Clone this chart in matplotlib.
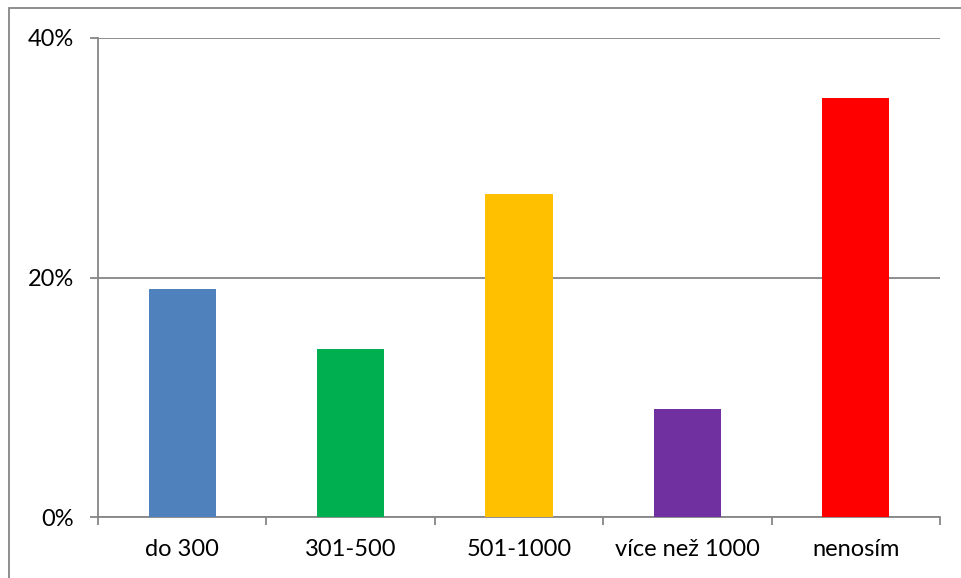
import matplotlib

matplotlib.use("Agg")
import matplotlib.pyplot as plt
from matplotlib.patches import Rectangle
from matplotlib.ticker import FuncFormatter, FixedLocator

categories = ["do 300", "301-500", "501-1000", "více než 1000", "nenosím"]
shares = [19, 14, 27, 9, 35]
colors = ["#4F81BD", "#00B050", "#FFC000", "#7030A0", "#FF0000"]
y_ticks = [0, 20, 40]

W, H = 962, 578
AXIS_GREY = "#868686"

plt.rcParams["font.family"] = ["Lato", "DejaVu Sans"]

fig = plt.figure(figsize=(W / 100, H / 100), dpi=100)
ax = fig.add_axes([98 / W, 1 - 517 / H, (940 - 98) / W, (517 - 38) / H])

# outer chart frame
fig.patches.append(Rectangle((9 / W, -0.05), 1.0, 1 - 8 / H + 0.05,
                             transform=fig.transFigure, fill=False,
                             edgecolor=AXIS_GREY, lw=1.3))

x = range(len(categories))
ax.bar(x, shares, width=0.4, color=colors, zorder=3)

ax.set_xlim(-0.5, len(categories) - 0.5)
ax.set_ylim(0, 40)
ax.set_yticks(y_ticks)
ax.yaxis.set_major_formatter(FuncFormatter(lambda v, _: f"{v:.0f}%"))
ax.set_xticks(list(x))
ax.set_xticklabels(categories)
ax.xaxis.set_minor_locator(FixedLocator([i - 0.5 for i in range(len(categories) + 1)]))

ax.grid(axis="y", color=AXIS_GREY, lw=1.3, zorder=0)
for side in ["top", "right"]:
    ax.spines[side].set_visible(False)
for side in ["left", "bottom"]:
    ax.spines[side].set_color(AXIS_GREY)
    ax.spines[side].set_linewidth(1.3)

ax.tick_params(axis="y", length=6, width=1.3, color=AXIS_GREY, labelsize=17, pad=11.5)
ax.tick_params(axis="x", which="major", length=0, labelsize=17, pad=16)
ax.tick_params(axis="x", which="minor", length=6, width=1.3, color=AXIS_GREY)

fig.savefig("out.png", dpi=100)
